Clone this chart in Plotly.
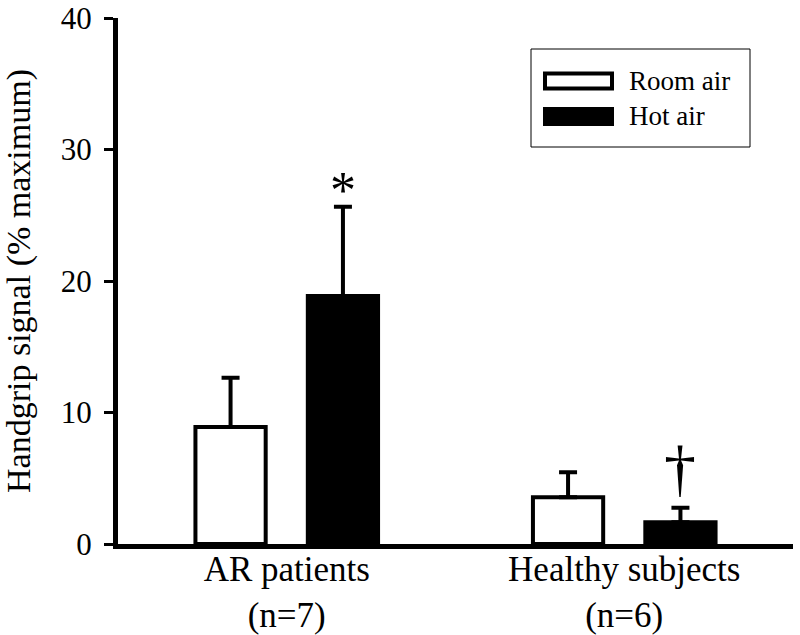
import plotly.graph_objects as go

categories = ["AR patients<br>(n=7)", "Healthy subjects<br>(n=6)"]
series_names = ["Room air", "Hot air"]
room_air = [8.9, 3.55]
room_air_err = [3.75, 1.9]
hot_air = [18.85, 1.65]
hot_air_err = [6.8, 1.1]
markers = ["*", "†"]
y_ticks = [0, 10, 20, 30, 40]

FONT = "'Liberation Serif', 'DejaVu Serif', 'Times New Roman', serif"

L, R, T, B = 118, 7, 18, 91
W, H = 800, 635
PW, PH = W - L - R, H - T - B  # 675 x 526


def px_x(x):  # page pixel -> paper fraction
    return (x - L) / PW


def px_y(y):
    return (H - B - y) / PH


fig = go.Figure()
fig.add_trace(go.Bar(
    x=categories, y=room_air, name=series_names[0],
    marker=dict(color="white", line=dict(color="black", width=4)),
    error_y=dict(type="data", array=room_air_err, arrayminus=[0, 0], symmetric=False,
                 color="black", thickness=4, width=9),
    showlegend=False,
))
fig.add_trace(go.Bar(
    x=categories, y=hot_air, name=series_names[1],
    marker=dict(color="black", line=dict(color="black", width=4)),
    error_y=dict(type="data", array=hot_air_err, arrayminus=[0, 0], symmetric=False,
                 color="black", thickness=4, width=9),
    showlegend=False,
))

# significance markers above hot-air error bars
marker_sizes = [52, 64]
marker_shifts = [-14, 2]
for i, m in enumerate(markers):
    top = hot_air[i] + hot_air_err[i]
    fig.add_annotation(x=categories[i], y=top, xref="x", yref="y", text=m,
                       showarrow=False, xshift=56, yanchor="bottom",
                       yshift=marker_shifts[i],
                       font=dict(family=FONT, size=marker_sizes[i], color="black"))

# manual legend (wide swatches like the original)
fig.add_shape(type="rect", xref="paper", yref="paper",
              x0=px_x(531), x1=px_x(750), y0=px_y(147), y1=px_y(49),
              line=dict(color="black", width=1), fillcolor="white")
legend_rows = [(81, "white"), (116.5, "black")]
for (yc, fill), name in zip(legend_rows, series_names):
    fig.add_shape(type="rect", xref="paper", yref="paper",
                  x0=px_x(545), x1=px_x(612), y0=px_y(yc + 7.5), y1=px_y(yc - 7.5),
                  line=dict(color="black", width=4), fillcolor=fill)
    fig.add_annotation(x=px_x(627), y=px_y(yc), xref="paper", yref="paper",
                       text=name, showarrow=False, xanchor="left", yanchor="middle",
                       font=dict(family=FONT, size=27, color="black"))

fig.update_layout(
    width=W, height=H,
    margin=dict(l=L, r=R, t=T, b=B),
    paper_bgcolor="white", plot_bgcolor="white",
    barmode="group", bargap=0.334, bargroupgap=0.375,
    font=dict(family=FONT, color="black"),
)
fig.update_xaxes(
    showline=True, linecolor="black", linewidth=5, ticks="",
    tickfont=dict(family=FONT, size=35, color="black"),
    showgrid=False, zeroline=False, automargin=False,
    ticklabelstandoff=-10,
)
fig.update_yaxes(
    range=[0, 40], tickvals=y_ticks, ticktext=[str(t) for t in y_ticks],
    showline=True, linecolor="black", linewidth=5,
    ticks="outside", ticklen=9, tickwidth=3, tickcolor="black",
    tickfont=dict(family=FONT, size=31, color="black"),
    showgrid=False, zeroline=False, automargin=False,
    ticklabeloverflow="allow", ticklabelstandoff=6,
    title=dict(text="Handgrip signal (% maximum)", font=dict(family=FONT, size=34, color="black"),
               standoff=22),
)

fig.write_html("out.html", config={"displayModeBar": False},
               post_script="document.body.style.margin='0px';")
